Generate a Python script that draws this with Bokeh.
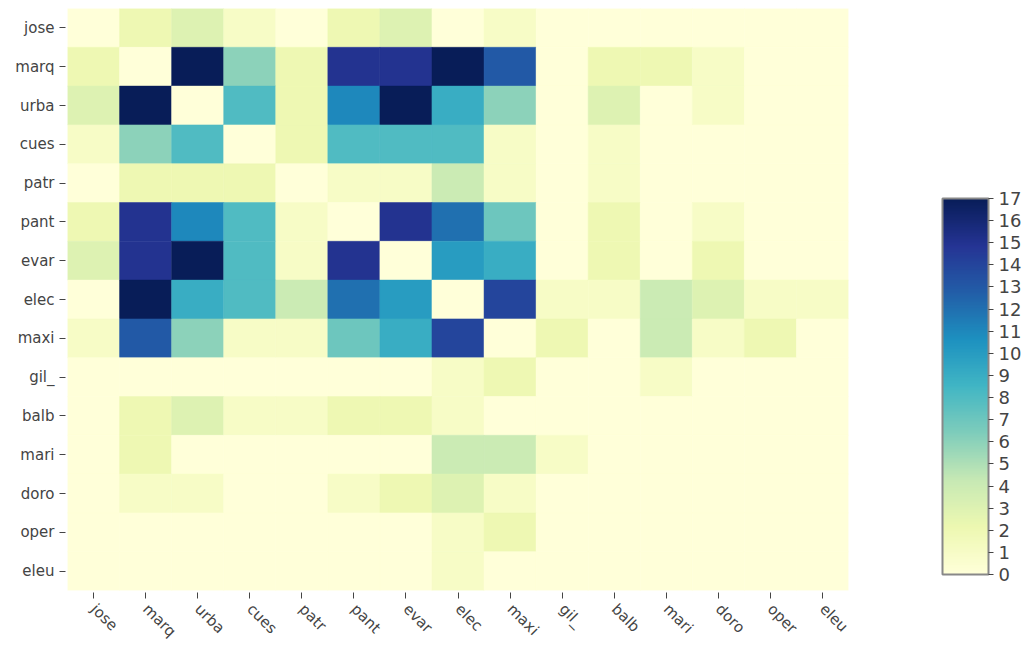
import numpy as np
from bokeh.plotting import figure
from bokeh.models import ColumnDataSource, LinearColorMapper, ColorBar, FixedTicker
from bokeh.embed import file_html
from bokeh.resources import INLINE

names = ["jose", "marq", "urba", "cues", "patr", "pant", "evar", "elec",
         "maxi", "gil_", "balb", "mari", "doro", "oper", "eleu"]

jose_row = [0, 2, 3, 1, 0, 2, 3, 0, 1, 0, 0, 0, 0, 0, 0]
marq_row = [2, 0, 17, 6, 2, 15, 15, 17, 13, 0, 2, 2, 1, 0, 0]
urba_row = [3, 17, 0, 8, 2, 11, 17, 9, 6, 0, 3, 0, 1, 0, 0]
cues_row = [1, 6, 8, 0, 2, 8, 8, 8, 1, 0, 1, 0, 0, 0, 0]
patr_row = [0, 2, 2, 2, 0, 1, 1, 4, 1, 0, 1, 0, 0, 0, 0]
pant_row = [2, 15, 11, 8, 1, 0, 15, 12, 7, 0, 2, 0, 1, 0, 0]
evar_row = [3, 15, 17, 8, 1, 15, 0, 10, 9, 0, 2, 0, 2, 0, 0]
elec_row = [0, 17, 9, 8, 4, 12, 10, 0, 14, 1, 1, 4, 3, 1, 1]
maxi_row = [1, 13, 6, 1, 1, 7, 9, 14, 0, 2, 0, 4, 1, 2, 0]
gil_row = [0, 0, 0, 0, 0, 0, 0, 1, 2, 0, 0, 1, 0, 0, 0]
balb_row = [0, 2, 3, 1, 1, 2, 2, 1, 0, 0, 0, 0, 0, 0, 0]
mari_row = [0, 2, 0, 0, 0, 0, 0, 4, 4, 1, 0, 0, 0, 0, 0]
doro_row = [0, 1, 1, 0, 0, 1, 2, 3, 1, 0, 0, 0, 0, 0, 0]
oper_row = [0, 0, 0, 0, 0, 0, 0, 1, 2, 0, 0, 0, 0, 0, 0]
eleu_row = [0, 0, 0, 0, 0, 0, 0, 1, 0, 0, 0, 0, 0, 0, 0]

matrix = [jose_row, marq_row, urba_row, cues_row, patr_row, pant_row, evar_row,
          elec_row, maxi_row, gil_row, balb_row, mari_row, doro_row, oper_row, eleu_row]

colorbar_ticks = list(range(18))

# YlGnBu (light -> dark) anchors, interpolated to a smooth palette
anchors = ["#ffffd9", "#edf8b1", "#c7e9b4", "#7fcdbb", "#41b6c4",
           "#1d91c0", "#225ea8", "#253494", "#081d58"]
def hex2rgb(h):
    return [int(h[i:i + 2], 16) for i in (1, 3, 5)]
arr = np.array([hex2rgb(a) for a in anchors], dtype=float)
pos = np.linspace(0, 1, len(anchors))
ts = np.linspace(0, 1, 256)
palette = []
for t in ts:
    rgb = [int(round(np.interp(t, pos, arr[:, k]))) for k in range(3)]
    palette.append("#%02x%02x%02x" % tuple(rgb))

xs, ys, vs = [], [], []
for i, row_name in enumerate(names):
    for j, col_name in enumerate(names):
        xs.append(col_name)
        ys.append(row_name)
        vs.append(matrix[i][j])
src = ColumnDataSource(dict(x=xs, y=ys, v=vs))

mapper = LinearColorMapper(palette=palette, low=0, high=17)

p = figure(width=1028, height=649, x_range=names, y_range=list(reversed(names)),
           output_backend="svg", toolbar_location=None,
           min_border_left=67, min_border_top=8, min_border_bottom=59,
           min_border_right=180)
p.rect(x="x", y="y", width=1, height=1, source=src,
       fill_color={"field": "v", "transform": mapper},
       line_color={"field": "v", "transform": mapper}, line_width=0.5)

p.outline_line_color = None
p.xgrid.grid_line_color = None
p.ygrid.grid_line_color = None
for ax in (p.xaxis, p.yaxis):
    ax.axis_line_color = None
    ax.major_tick_in = -2
    ax.major_tick_out = 8
    ax.major_tick_line_color = "#444444"
    ax.major_label_text_font = "DejaVu Sans"
    ax.major_label_text_font_size = "15px"
    ax.major_label_text_color = "#444444"
p.yaxis.major_label_standoff = 5
p.xaxis.major_label_standoff = 8
p.xaxis.major_label_orientation = -np.pi / 4
p.x_range.range_padding = 0
p.y_range.range_padding = 0

cb = ColorBar(color_mapper=mapper, width=46, height=376, location=(94, 16),
              ticker=FixedTicker(ticks=colorbar_ticks),
              major_label_text_font="DejaVu Sans",
              major_label_text_font_size="18px",
              major_label_text_color="#444444",
              major_tick_in=0, major_tick_out=5,
              major_tick_line_color="#444444",
              bar_line_color="#888888", bar_line_width=2,
              border_line_color=None, background_fill_color=None,
              padding=0, margin=0, label_standoff=5)
p.add_layout(cb, "right")

open("out.html", "w").write(file_html(p, INLINE))
